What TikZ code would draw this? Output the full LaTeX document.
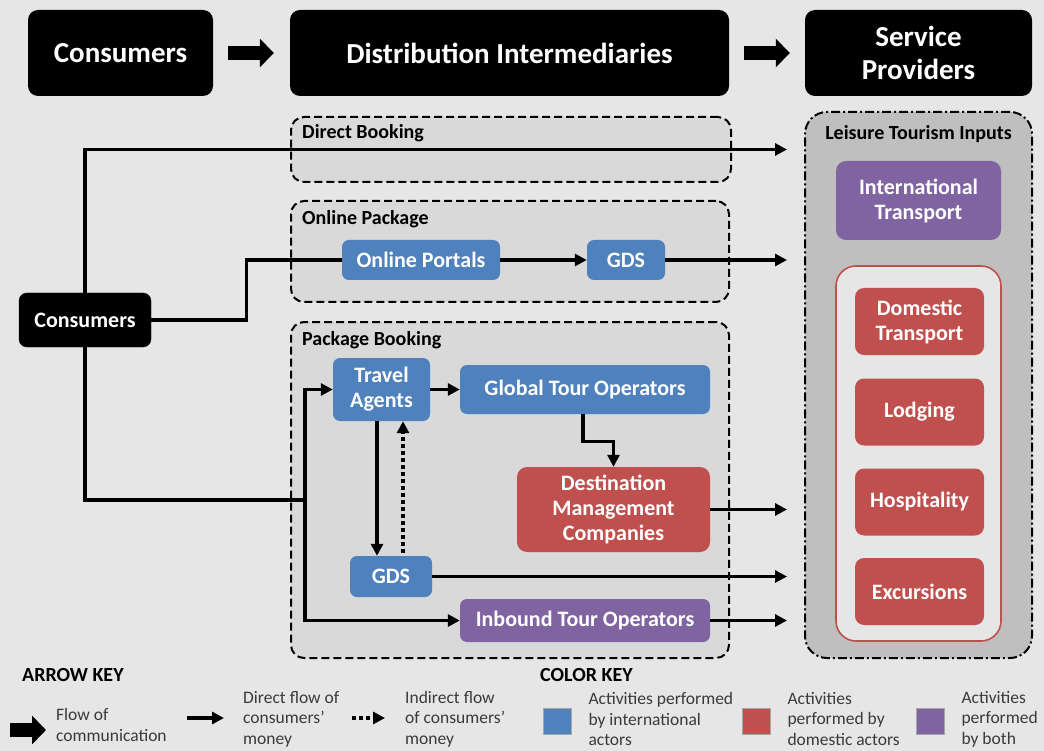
\documentclass[tikz,border=0pt]{standalone}
\usepackage{fontspec}
\setmainfont{Carlito}
\usetikzlibrary{arrows.meta,positioning,calc}
\definecolor{Canvas}{HTML}{E6E6E6}
\definecolor{Panel}{HTML}{D9D9D9}
\definecolor{Inputs}{HTML}{BFBFBF}
\definecolor{Intl}{HTML}{4F81BD}
\definecolor{Dom}{HTML}{C0504D}
\definecolor{Both}{HTML}{8064A2}
\definecolor{KeyInk}{HTML}{3A3A3A}
\tikzset{>=Latex,
 head/.style={fill=black,rounded corners=10pt,text=white,align=center,inner sep=0pt,
  font=\fontsize{29}{33}\selectfont\bfseries},
 actor/.style={rounded corners=7pt,text=white,align=center,inner sep=0pt,
  font=\fontsize{22}{25}\selectfont\bfseries},
 group/.style={draw=black,line width=2pt,dash pattern=on 8pt off 4pt,fill=Panel,rounded corners=13pt,inner sep=0pt},
 grouplabel/.style={font=\fontsize{20}{22}\selectfont\bfseries,anchor=west,inner sep=0pt},
 money/.style={-{Triangle[length=12pt,width=12pt]},line width=3.3pt},
 indirect/.style={money,dash pattern=on 4pt off 3pt},
 comm/.style={-{Triangle[length=14pt,width=28pt]},line width=14pt},
 keytext/.style={font=\fontsize{17.5}{20.5}\selectfont,text=KeyInk,align=left,anchor=west,inner sep=0pt},
 keyhead/.style={font=\fontsize{20}{22}\selectfont\bfseries,anchor=west,inner sep=0pt},
 swatch/.style={minimum width=28pt,minimum height=26pt,inner sep=0pt,draw=gray!70,line width=.6pt},
 }
\begin{document}
\begin{tikzpicture}[x=1pt,y=-1pt]
 \fill[Canvas](0,0)rectangle(1044,751);
 \useasboundingbox(0,0)rectangle(1044,751);
 % header row
 \node[head,minimum width=185,minimum height=86](hcons)at(120.5,53){Consumers};
 \node[head,minimum width=439,minimum height=86](hdist)at(509.5,53){Distribution Intermediaries};
 \node[head,minimum width=227,minimum height=86](hserv)at(918.5,53){Service\\Providers};
 \draw[comm,shorten <=15pt,shorten >=16pt](hcons)--(hdist);
 \draw[comm,shorten <=15pt,shorten >=15pt](hdist)--(hserv);
 % booking channels
 \node[group,minimum width=440,minimum height=65](direct)at(511,149.5){};
 \node[group,minimum width=438,minimum height=101](online)at(510,251.5){};
 \node[group,minimum width=438,minimum height=336](package)at(510,490){};
 \node[grouplabel](ldirect)at([xshift=12pt,yshift=-17pt]direct.north west){Direct Booking};
 \node[grouplabel](lonline)at([xshift=12pt,yshift=-19pt]online.north west){Online Package};
 \node[grouplabel](lpackage)at([xshift=12pt,yshift=-19pt]package.north west){Package Booking};
 % leisure tourism inputs
 \node[draw=black,line width=2pt,dash pattern=on 9pt off 3pt on 2pt off 3pt,fill=Inputs,
  rounded corners=22pt,minimum width=227,minimum height=546,inner sep=0pt](lti)at(918.5,385){};
 \node[grouplabel,anchor=center](llti)at(918.5,134){Leisure Tourism Inputs};
 \node[actor,fill=Both,minimum width=165,minimum height=79,rounded corners=10pt](intl)at(918.5,200.5){International\\Transport};
 \node[draw=Dom,line width=1.6pt,fill=Canvas,rounded corners=20pt,minimum width=165,minimum height=375,inner sep=0pt](local)at(918.5,453.5){};
 \foreach \y/\n/\t in {321.5/domtr/Domestic\\Transport,412/lodging/Lodging,502/hosp/Hospitality,591.5/exc/Excursions}{
 \node[actor,fill=Dom,minimum width=129,minimum height=67,rounded corners=9pt](\n)at(919.5,\y){\t};}
 % intermediaries
 \node[draw=black,fill=black,rounded corners=8pt,text=white,inner sep=0pt,minimum width=132,minimum height=54,
  font=\fontsize{22}{25}\selectfont\bfseries](cons)at(85,320){Consumers};
 \node[actor,fill=Intl,minimum width=158,minimum height=40](portals)at(421,260){Online Portals};
 \node[actor,fill=Intl,minimum width=78,minimum height=40](gdsa)at(626,260){GDS};
 \node[actor,fill=Intl,minimum width=97,minimum height=63](agents)at(381.5,389.5){Travel\\Agents};
 \node[actor,fill=Intl,minimum width=250,minimum height=49](global)at(585,389.5){Global Tour Operators};
 \node[actor,fill=Dom,minimum width=193,minimum height=85,rounded corners=10pt](dmc)at(613.5,509.5){Destination\\Management\\Companies};
 \node[actor,fill=Intl,minimum width=82,minimum height=41](gdsb)at(391,576.5){GDS};
 \node[actor,fill=Both,minimum width=250,minimum height=43](inbound)at(585,620.5){Inbound Tour Operators};
 \coordinate(split)at(305,500);
 % money flows
 \draw[money,shorten >=17pt](cons.north)|-(lti.west|-direct.center);
 \draw[line width=3.3pt](cons.east)--++(95,0)|-(portals.west);
 \draw[money](portals)--(gdsa);
 \draw[money,shorten >=17pt](gdsa)--(lti.west|-gdsa.center);
 \draw[line width=3.3pt](cons.south)|-(split);
 \draw[money](split)|-(agents.west);
 \draw[money](split)|-(inbound.west);
 \draw[money](agents)--(global);
 \draw[money]([xshift=-2pt]global.south)--++(0,27)-|(dmc.north);
 \draw[money]([xshift=-4.5pt]agents.south)--([xshift=-4.5pt]agents.south|-gdsb.north);
 \draw[indirect,shorten <=3pt]([xshift=12pt]gdsb.north)--([xshift=12pt]gdsb.north|-agents.south);
 \draw[money,shorten >=17pt](dmc)--(lti.west|-dmc.center);
 \draw[money,shorten >=17pt](gdsb)--(lti.west|-gdsb.center);
 \draw[money,shorten >=17pt](inbound)--(lti.west|-inbound.center);
 % keys
 \node[keyhead](akey)at(22,675){ARROW KEY};
 \draw[comm](10,730)--(46,730);
 \node[keytext](kcomm)at(56,725){Flow of\\communication};
 \draw[money](187,718)--(224,718);
 \node[keytext](kdirect)at(243,719){Direct flow of\\consumers’\\money};
 \draw[indirect](352,718)--(385,718);
 \node[keytext](kindirect)at(405,719){Indirect flow\\of consumers’\\money};
 \node[keyhead](ckey)at(540,675){COLOR KEY};
 \foreach \x/\c/\t in {557/Intl/Activities performed\\by international\\actors,
  756/Dom/Activities\\performed by\\domestic actors,
  930/Both/Activities\\performed\\by both}{
 \node[swatch,fill=\c](s\c)at(\x,721){};
 \node[keytext](t\c)at([xshift=17pt]s\c.east|-0,719){\t};}
\end{tikzpicture}
\end{document}
